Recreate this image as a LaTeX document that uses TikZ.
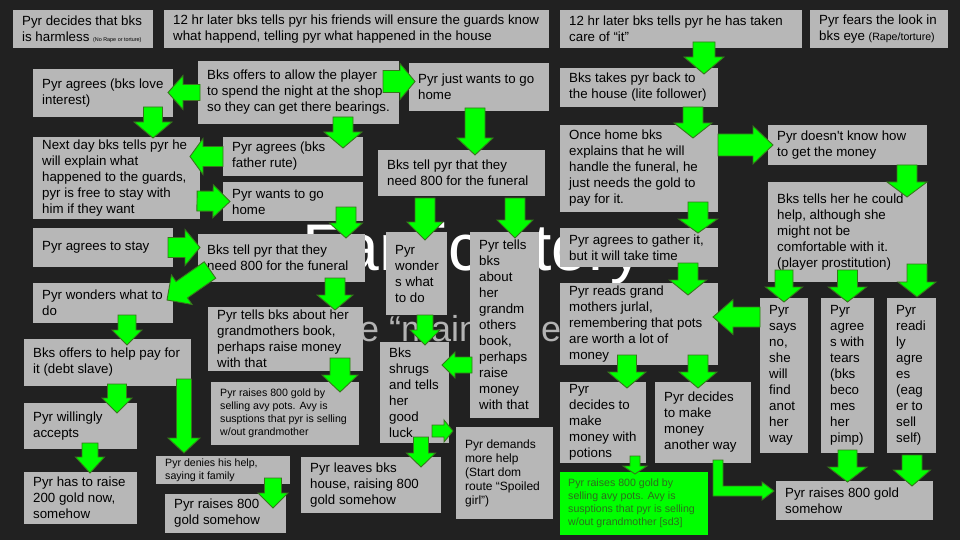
\documentclass[tikz,border=0pt]{standalone}
\usepackage{fontspec}
\setmainfont{Liberation Sans}
\usetikzlibrary{calc}
\definecolor{bg}{HTML}{212121}
\definecolor{boxgray}{HTML}{B7B7B7}
\definecolor{arrgreen}{HTML}{00FF00}
\definecolor{arredge}{HTML}{38761D}
\definecolor{sdtext}{HTML}{2E6B1E}
\definecolor{subgray}{HTML}{B3B3B3}
\tikzset{
  boxst/.style={fill=boxgray, inner sep=0pt, outer sep=0pt},
  txt/.style={font=\fontsize{13.3}{16}\selectfont, align=left, inner sep=0pt, text=black},
  smalltxt/.style={font=\fontsize{10.6}{13}\selectfont},
  midtxt/.style={font=\fontsize{12}{14}\selectfont},
  arrowst/.style={fill=arrgreen, draw=arredge, line width=0.9pt, line join=miter},
}
\newcommand{\slidebox}[7][]{%
  \node[boxst, anchor=north west, minimum width={#5-#3}, minimum height={#6-#4}] (#2) at (#3,#4) {};
  \node[txt, anchor=west, #1] (#2t) at ($(#2.west)+(9,0)$) {#7};
}
\newcommand{\blockarr}[5]{%
  \draw[arrowst] let \p1=($(#2)!#5!(#1)$) in
    ($(#1)!#3!90:(#2)$) -- ($(\p1)!#3!90:(#2)$) -- ($(\p1)!#4!90:(#2)$) -- (#2)
    -- ($(\p1)!#4!-90:(#2)$) -- ($(\p1)!#3!-90:(#2)$) -- ($(#1)!#3!-90:(#2)$) -- cycle;
}
\begin{document}
\begin{tikzpicture}[x=1pt,y=-1pt]
\useasboundingbox (0,0) rectangle (960,540);
\fill[bg] (0,0) rectangle (960,540);
% background slide title
\node[anchor=base west, inner sep=0pt, text=white, font=\fontsize{66}{70}\selectfont] (title) at (302,270) {Fanfic story};
\node[anchor=base west, inner sep=0pt, text=subgray, font=\fontsize{36}{40}\selectfont] (subtitle) at (317,341) {The “main” quest};
% boxes
\slidebox{a1}{13}{10}{153}{48}{Pyr decides that bks\\is harmless {\fontsize{5.4}{6}\selectfont (No Rape or torture)}}
\slidebox{a2}{164}{10}{549}{48}{12 hr later bks tells pyr his friends will ensure the guards know\\what happend, telling pyr what happened in the house}
\slidebox{a3}{560}{10}{802}{48}{12 hr later bks tells pyr he has taken\\care of “it”}
\slidebox{a4}{810}{10}{948}{48}{Pyr fears the look in\\bks eye {\fontsize{10.6}{12}\selectfont (Rape/torture)}}
\slidebox{b1}{33}{69}{173}{117}{Pyr agrees (bks love\\interest)}
\slidebox{b2}{198}{61}{399}{124}{Bks offers to allow the player\\to spend the night at the shop\\so they can get there bearings.}
\slidebox{b3}{409}{63}{549}{111}{Pyr just wants to go\\home}
\slidebox{b4}{560}{68}{718}{107}{Bks takes pyr back to\\the house (lite follower)}
\slidebox{c1}{33}{137}{200}{219}{Next day bks tells pyr he\\will explain what\\happened to the guards,\\pyr is free to stay with\\him if they want}
\slidebox{c2}{223}{137}{363}{176}{Pyr agrees (bks\\father rute)}
\slidebox{c3}{223}{182}{363}{221}{Pyr wants to go\\home}
\slidebox{c4}{378}{150}{545}{196}{Bks tell pyr that they\\need 800 for the funeral}
\slidebox{c5}{560}{125}{718}{212}{Once home bks\\explains that he will\\handle the funeral, he\\just needs the gold to\\pay for it.}
\slidebox{c6}{768}{125}{927}{165}{Pyr doesn\textquotesingle t know how\\to get the money}
\slidebox{c7}{768}{182}{927}{282}{Bks tells her he could\\help, although she\\might not be\\comfortable with it.\\(player prostitution)}
\slidebox{d1}{33}{228}{173}{267}{Pyr agrees to stay}
\slidebox{d2}{198}{234}{365}{282}{Bks tell pyr that they\\need 800 for the funeral}
\slidebox{d3}{386}{232}{447}{315}{Pyr\\wonder\\s what\\to do}
\slidebox{d4}{470}{232}{539}{418}{Pyr tells\\bks\\about\\her\\grandm\\others\\book,\\perhaps\\raise\\money\\with that}
\slidebox{d5}{560}{228}{718}{267}{Pyr agrees to gather it,\\but it will take time}
\slidebox{e1}{33}{283}{173}{323}{Pyr wonders what to\\do}
\slidebox{e2}{208}{307}{363}{371}{Pyr tells bks about her\\grandmothers book,\\perhaps raise money\\with that}
\slidebox{e3}{560}{283}{718}{365}{Pyr reads grand\\mothers jurlal,\\remembering that pots\\are worth a lot of\\money}
\slidebox{e4}{760}{298}{808}{453}{Pyr\\says\\no,\\she\\will\\find\\anot\\her\\way}
\slidebox{e5}{821}{298}{874}{453}{Pyr\\agree\\s with\\tears\\(bks\\beco\\mes\\her\\pimp)}
\slidebox{e6}{887}{298}{936}{453}{Pyr\\readi\\ly\\agre\\es\\(eag\\er to\\sell\\self)}
\slidebox{f1}{24}{339}{191}{386}{Bks offers to help pay for\\it (debt slave)}
\slidebox{f2}{380}{342}{449}{443}{Bks\\shrugs\\and tells\\her\\good\\luck}
\slidebox[smalltxt]{f3}{211}{382}{359}{445}{Pyr raises 800 gold by\\selling avy pots. Avy is\\susptions that pyr is selling\\w/out grandmother}
\slidebox{f4}{24}{403}{137}{449}{Pyr willingly\\accepts}
\slidebox{f5}{560}{382}{646}{463}{Pyr\\decides to\\make\\money with\\potions}
\slidebox{f6}{655}{382}{751}{463}{Pyr decides\\to make\\money\\another way}
\slidebox[midtxt]{f7}{456}{427}{553}{519}{Pyr demands\\more help\\(Start dom\\route “Spoiled\\girl”)}
\slidebox{g1}{24}{472}{137}{524}{Pyr has to raise\\200 gold now,\\somehow}
\slidebox[smalltxt]{g2}{156}{456}{290}{484}{Pyr denies his help,\\saying it family}
\slidebox{g3}{165}{494}{286}{533}{Pyr raises 800\\gold somehow}
\slidebox{g4}{301}{457}{441}{513}{Pyr leaves bks\\house, raising 800\\gold somehow}
\node[boxst, fill=arrgreen, anchor=north west, minimum width=148, minimum height=63] (g5) at (560,472) {};
\node[txt, smalltxt, text=sdtext, anchor=west] (g5t) at ($(g5.west)+(8,0)$) {Pyr raises 800 gold by\\selling avy pots. Avy is\\susptions that pyr is selling\\w/out grandmother [sd3]};
\slidebox{g6}{776}{481}{933}{520}{Pyr raises 800 gold\\somehow}
% connector end points
\coordinate (r1s) at ($(b2.west)+(2,0)$);        \coordinate (r1e) at ($(b1.east)+(-5,-0.5)$);
\coordinate (r2s) at ($(b2.east)+(-16,-11)$);    \coordinate (r2e) at ($(b3.west)+(6,-5.5)$);
\coordinate (r3s) at ($(b1.south)+(50,-10)$);    \coordinate (r3e) at ($(c1.north)+(36.5,1)$);
\coordinate (r4s) at ($(b2.south)+(44.5,-7)$);   \coordinate (r4e) at ($(c2.north)+(50,11)$);
\coordinate (r5s) at ($(c2.west)+(0,0)$);        \coordinate (r5e) at ($(c1.north east)+(-10,19.5)$);
\coordinate (r6s) at ($(b3.south)+(-4,-3)$);     \coordinate (r6e) at ($(c4.north)+(13.5,5)$);
\coordinate (r7s) at ($(c1.east)+(-3,23)$);      \coordinate (r7e) at ($(c3.west)+(7,0)$);
\coordinate (r8s) at ($(c3.south)+(53,-14)$);    \coordinate (r8e) at ($(d2.north)+(64.5,4)$);
\coordinate (r9s) at ($(d1.east)+(-5,0)$);       \coordinate (r9e) at ($(d2.west)+(2,-10.5)$);
\coordinate (r10s) at ($(d2.south west)+(12,-12)$); \coordinate (r10e) at ($(e1.east)+(-6,-3)$);
\coordinate (r11s) at ($(e1.south)+(24,-8)$);    \coordinate (r11e) at ($(f1.north)+(19.5,6)$);
\coordinate (r12s) at ($(d2.south)+(53.5,-4)$);  \coordinate (r12e) at ($(e2.north)+(49.5,3)$);
\coordinate (r13s) at ($(c4.south)+(-36.5,2)$);  \coordinate (r13e) at ($(d3.north)+(8.5,8)$);
\coordinate (r14s) at ($(c4.south)+(53.5,2)$);   \coordinate (r14e) at ($(d4.north)+(10.5,6)$);
\coordinate (r15s) at ($(d3.south)+(8.5,0)$);    \coordinate (r15e) at ($(f2.north)+(10.5,3)$);
\coordinate (r16s) at ($(d4.west)+(2,40)$);      \coordinate (r16e) at ($(f2.east)+(-7,-27.5)$);
\coordinate (r17s) at ($(f2.east)+(-17,38.5)$);  \coordinate (r17e) at ($(f7.west)+(-3,-42)$);
\coordinate (r18s) at ($(f2.south)+(6.5,-6)$);   \coordinate (r18e) at ($(g4.north)+(50,10)$);
\coordinate (r19s) at ($(e2.south)+(54.5,-13)$); \coordinate (r19e) at ($(f3.north)+(55,10)$);
\coordinate (r20s) at ($(f1.south)+(9.5,-2)$);   \coordinate (r20e) at ($(f4.north)+(36.5,10)$);
\coordinate (r21s) at ($(f4.south)+(9.5,-6)$);   \coordinate (r21e) at ($(g1.north)+(9.5,1)$);
\coordinate (r22s) at ($(f1.south east)+(-7,-7)$); \coordinate (r22e) at ($(g2.north west)+(28,-3)$);
\coordinate (r23s) at ($(g2.south east)+(-17,-6)$); \coordinate (r23e) at ($(g3.north east)+(-13,14)$);
\coordinate (r24s) at ($(a3.south)+(23,-6)$);    \coordinate (r24e) at ($(b4.north)+(65,6)$);
\coordinate (r25s) at ($(b4.south)+(54,0)$);     \coordinate (r25e) at ($(c5.north)+(54,13)$);
\coordinate (r26s) at ($(c5.east)+(0,-23.5)$);   \coordinate (r26e) at ($(c6.west)+(5,0)$);
\coordinate (r27s) at ($(c6.south east)+(-20,0)$); \coordinate (r27e) at ($(c7.north east)+(-20,15)$);
\coordinate (r28s) at ($(c5.south east)+(-20,-10)$); \coordinate (r28e) at ($(d5.north east)+(-20,5)$);
\coordinate (r29s) at ($(d5.south east)+(-30,-4)$); \coordinate (r29e) at ($(e3.north east)+(-30,12)$);
\coordinate (r30s) at ($(e4.west)+(0,-58.5)$);   \coordinate (r30e) at ($(e3.east)+(-5,-7)$);
\coordinate (r31s) at ($(c7.south west)+(16,-12)$); \coordinate (r31e) at ($(e4.north)+(0,4)$);
\coordinate (r32s) at ($(c7.south)+(0,-12)$);    \coordinate (r32e) at ($(e5.north)+(0,4)$);
\coordinate (r33s) at ($(c7.south east)+(-10,-18)$); \coordinate (r33e) at ($(e6.north east)+(-19,-1)$);
\coordinate (r34s) at ($(e3.south west)+(67,-10)$); \coordinate (r34e) at ($(f5.north)+(24,6)$);
\coordinate (r35s) at ($(e3.south east)+(-20,-10)$); \coordinate (r35e) at ($(f6.north)+(-5,6)$);
\coordinate (r36s) at ($(f5.south)+(32,-7)$);    \coordinate (r36e) at ($(g5.north)+(1,2)$);
\coordinate (r37s) at ($(f6.south)+(15,-3)$);    \coordinate (r37e) at ($(g6.west)+(-2,-9.5)$);
\coordinate (r38s) at ($(e5.south)+(0,-3)$);     \coordinate (r38e) at ($(g6.north)+(-7,1)$);
\coordinate (r39s) at ($(e6.south)+(0.5,2)$);    \coordinate (r39e) at ($(g6.north east)+(-21,5)$);
% block arrows
\blockarr{r1s}{r1e}{8pt}{17pt}{15pt}
\blockarr{r2s}{r2e}{11pt}{18pt}{15pt}
\blockarr{r3s}{r3e}{9.5pt}{19pt}{16pt}
\blockarr{r4s}{r4e}{10pt}{19pt}{16pt}
\blockarr{r5s}{r5e}{10pt}{18pt}{13pt}
\blockarr{r6s}{r6e}{10pt}{18pt}{17pt}
\blockarr{r7s}{r7e}{10pt}{16.5pt}{17pt}
\blockarr{r8s}{r8e}{10pt}{16.5pt}{15pt}
\blockarr{r9s}{r9e}{10pt}{18pt}{15pt}
\blockarr{r10s}{r10e}{10pt}{18pt}{18pt}
\blockarr{r11s}{r11e}{9pt}{15pt}{15pt}
\blockarr{r12s}{r12e}{10pt}{18pt}{15pt}
\blockarr{r13s}{r13e}{10pt}{18pt}{18pt}
\blockarr{r14s}{r14e}{10pt}{18pt}{18pt}
\blockarr{r15s}{r15e}{8pt}{15pt}{15pt}
\blockarr{r16s}{r16e}{8pt}{13pt}{13pt}
\blockarr{r17s}{r17e}{6pt}{11pt}{9pt}
\blockarr{r18s}{r18e}{7.5pt}{14.5pt}{14pt}
\blockarr{r19s}{r19e}{10pt}{18pt}{17pt}
\blockarr{r20s}{r20e}{9.5pt}{15pt}{15pt}
\blockarr{r21s}{r21e}{8pt}{14.5pt}{16pt}
\blockarr{r22s}{r22e}{7.5pt}{16pt}{15pt}
\blockarr{r23s}{r23e}{8.5pt}{15pt}{15pt}
\blockarr{r24s}{r24e}{11pt}{20pt}{17pt}
\blockarr{r25s}{r25e}{10pt}{19pt}{15pt}
\blockarr{r26s}{r26e}{11pt}{19pt}{20pt}
\blockarr{r27s}{r27e}{10pt}{20pt}{15pt}
\blockarr{r28s}{r28e}{10pt}{19.5pt}{14pt}
\blockarr{r29s}{r29e}{10pt}{18.5pt}{15pt}
\blockarr{r30s}{r30e}{10pt}{17.5pt}{20pt}
\blockarr{r31s}{r31e}{9pt}{18.5pt}{15pt}
\blockarr{r32s}{r32e}{10pt}{19pt}{15pt}
\blockarr{r33s}{r33e}{10pt}{19pt}{15pt}
\blockarr{r34s}{r34e}{9.5pt}{19pt}{16pt}
\blockarr{r35s}{r35e}{10pt}{19pt}{16pt}
\blockarr{r36s}{r36e}{5pt}{12pt}{8pt}
\draw[arrowst] let \p1=(r37s), \p2=(r37e) in
  (\x1-5pt,\y1) -- (\x1+5pt,\y1) -- (\x1+5pt,\y2+5pt) -- (\x2-12pt,\y2+5pt)
  -- (\x2-12pt,\y2+9pt) -- (\p2) -- (\x2-12pt,\y2-9pt) -- (\x2-12pt,\y2-5pt)
  -- (\x1-5pt,\y2-5pt) -- cycle;
\blockarr{r38s}{r38e}{9.5pt}{19.5pt}{15pt}
\blockarr{r39s}{r39e}{10pt}{18.5pt}{16pt}
\end{tikzpicture}
\end{document}
